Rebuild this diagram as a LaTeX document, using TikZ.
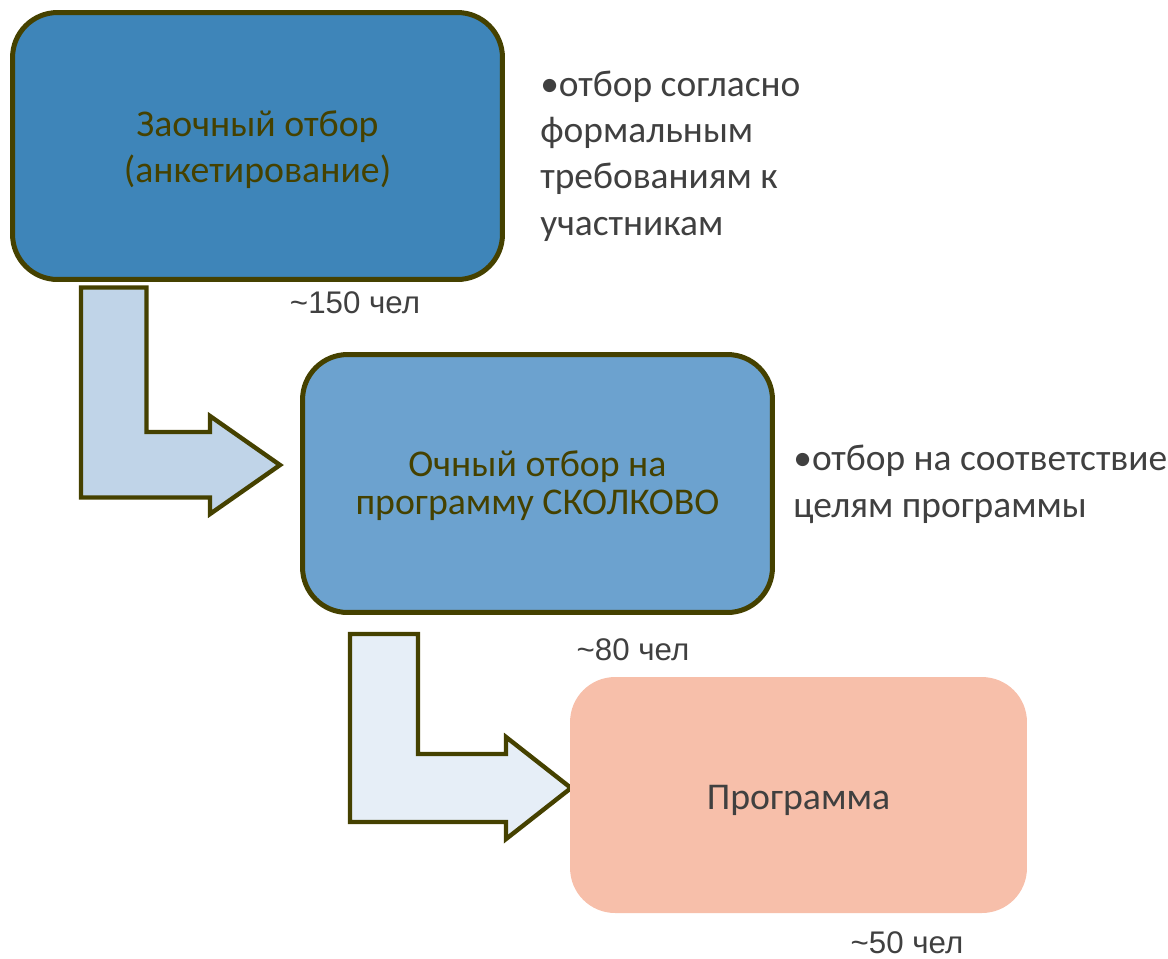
\documentclass[tikz,border=0pt]{standalone}
\usepackage{fontspec}
\setmainfont{Carlito}
\newfontfamily\arialfont{Liberation Sans}
\usetikzlibrary{positioning,calc}
\definecolor{olivedark}{HTML}{454100}
\definecolor{boxblue}{HTML}{3E85B9}
\definecolor{boxmid}{HTML}{6CA2CF}
\definecolor{boxpink}{HTML}{F7BFAA}
\definecolor{arrowlight}{HTML}{C0D4E8}
\definecolor{arrowpale}{HTML}{E6EEF7}
\definecolor{textgray}{HTML}{404040}

\tikzset{
  stage/.style={rounded corners=0.9cm, draw=olivedark, line width=2.85pt, align=center, text=olivedark, font=\fontsize{21.5}{26.2}\selectfont},
  note/.style={anchor=base west, align=left, text=textgray, font=\fontsize{21.3}{26.2}\selectfont, inner sep=0pt},
  count/.style={text=textgray, font=\arialfont\fontsize{17.8}{20}\selectfont, inner sep=0pt},
  lshape/.style={draw=olivedark, line width=2.5pt, line join=miter}
}

\begin{document}
\begin{tikzpicture}[x=0.02cm, y=-0.02cm]
\useasboundingbox (0,0) rectangle (1168,958);

\draw [lshape, fill=arrowlight] (81,287.5) -- (146.5,287.5) -- (146.5,432) -- (210,432) -- (210,416) -- (280,465) -- (210,514) -- (210,497.5) -- (81,497.5) -- cycle;
\draw [lshape, fill=arrowpale] (350,634) -- (418,634) -- (418,754) -- (506,754) -- (506,737) -- (571,788) -- (506,839) -- (506,822) -- (350,822) -- cycle;

\node (zaoch) [stage, fill=boxblue, minimum width=9.8cm, minimum height=5.34cm, text height=47pt, text depth=5pt] at (257.5,146) {Заочный отбор\\(анкетирование)};
\node (ochn) [stage, fill=boxmid, minimum width=9.4cm, minimum height=5.16cm, font=\fontsize{21.5}{21.6}\selectfont, text height=39.7pt, text depth=5pt] at (537.5,483.5) {Очный отбор на\\программу СКОЛКОВО};
\node (prog) [stage, draw=none, fill=boxpink, text=textgray, minimum width=9.14cm, minimum height=4.72cm, text height=19pt, text depth=2pt] at (798.5,795) {Программа};

\node (n1) [note] at (540,235) {•отбор согласно\\формальным\\требованиям к\\участникам};
\node (n2) [note] at (793,517) {•отбор на соответствие\\целям программы};

\node (c1) [count] at ($ (zaoch.south) + (97.5,20.5) $) {\textasciitilde150 чел};
\node (c2) [count] at ($ (ochn.south) + (95.5,34.5) $) {\textasciitilde80 чел};
\node (c3) [count] at ($ (prog.south) + (108.5,27) $) {\textasciitilde50 чел};
\end{tikzpicture}
\end{document}
